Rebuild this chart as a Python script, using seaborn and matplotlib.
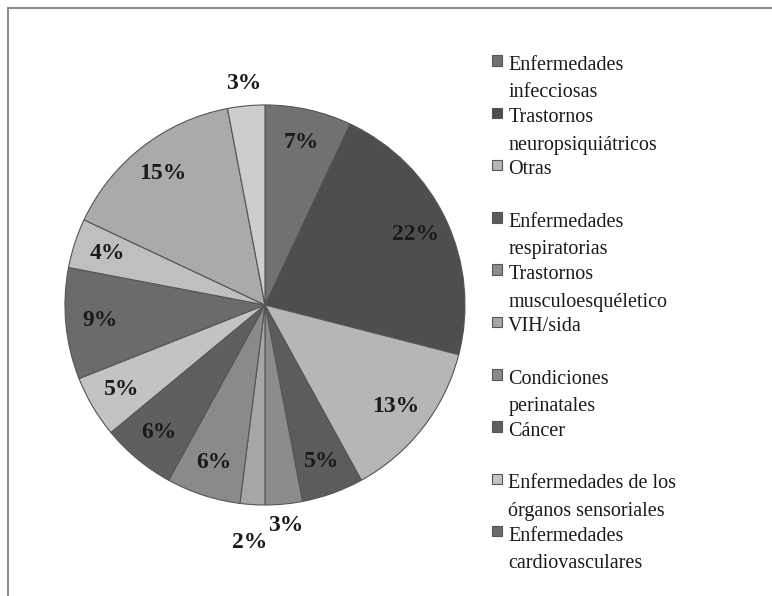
'''Grafico de torta con la carga de enfermedad por grupo de causas'''
import numpy as np
import matplotlib
matplotlib.use('Agg')
import matplotlib.pyplot as plt
import matplotlib.patches as mpatches
from matplotlib.legend_handler import HandlerPatch
import seaborn as sns

# datos (en sentido horario desde arriba)
valores = [7, 22, 13, 5, 3, 2, 6, 6, 5, 9, 4, 15, 3]
colores = ['#717171', '#4e4e4e', '#b6b6b6', '#5c5c5c', '#8c8c8c', '#a6a6a6',
           '#8a8a8a', '#5f5f5f', '#c3c3c3', '#6b6b6b', '#bfbfbf', '#aaaaaa', '#cdcdcd']
# la leyenda original solo muestra las 10 primeras categorias
categorias = ['Enfermedades\ninfecciosas', 'Trastornos\nneuropsiquiátricos', 'Otras\n',
              'Enfermedades\nrespiratorias', 'Trastornos\nmusculoesquéletico', 'VIH/sida\n',
              'Condiciones\nperinatales', 'Cáncer\n', 'Enfermedades de los\nórganos sensoriales',
              'Enfermedades\ncardiovasculares']

sns.set_theme(style='white')
plt.rcParams['font.family'] = ['Liberation Serif', 'DejaVu Serif']

TAM_LEY = 14.5
INTERLINEA = 1.62

fig = plt.figure(figsize=(7.72, 5.96), dpi=100)
fig.patch.set_facecolor('white')

# marco gris arriba y a la izquierda
fig.add_artist(plt.Line2D([0.011, 1.0], [0.986, 0.986], color='#8c8c8c', lw=1.5))
fig.add_artist(plt.Line2D([0.011, 0.011], [0.0, 0.986], color='#8c8c8c', lw=1.5))

ax = fig.add_axes([0.0194, 0.0688, 0.6477, 0.839])
wedges, _ = ax.pie(valores, colors=colores, startangle=90, counterclock=False,
                   wedgeprops=dict(edgecolor='#555555', linewidth=0.8))
ax.set_aspect('equal')

# etiquetas de porcentaje: las tajadas pequeñas van afuera
for w, v in zip(wedges, valores):
    ang = np.deg2rad((w.theta1 + w.theta2) / 2)
    if v > 3:
        r = 0.83
    elif v == 3:
        r = 1.11
    else:
        r = 1.19
    ax.text(r * np.cos(ang), r * np.sin(ang), f'{v}%', ha='center', va='center',
            fontsize=17, fontweight='bold', color='#1a1a1a')


def cuadro_arriba(legend, orig_handle, xdescent, ydescent, width, height, fontsize):
    '''marcador cuadrado alineado con la primera linea del texto'''
    lado = 7.5
    paso = fontsize * (0.683 * INTERLINEA + 0.217)
    return mpatches.Rectangle((-xdescent + width - lado, -ydescent + paso - 4.5),
                              lado, lado)


leg = fig.legend(wedges[:10], categorias, loc='upper left', bbox_to_anchor=(0.6035, 0.937),
                 frameon=False, fontsize=TAM_LEY, handlelength=0.9, handleheight=0.7,
                 handletextpad=0.3, labelspacing=0.28,
                 handler_map={mpatches.Wedge: HandlerPatch(patch_func=cuadro_arriba)})
for t in leg.get_texts():
    t.set_linespacing(INTERLINEA)
    t.set_color('#1a1a1a')

fig.savefig('out.png', dpi=100)
